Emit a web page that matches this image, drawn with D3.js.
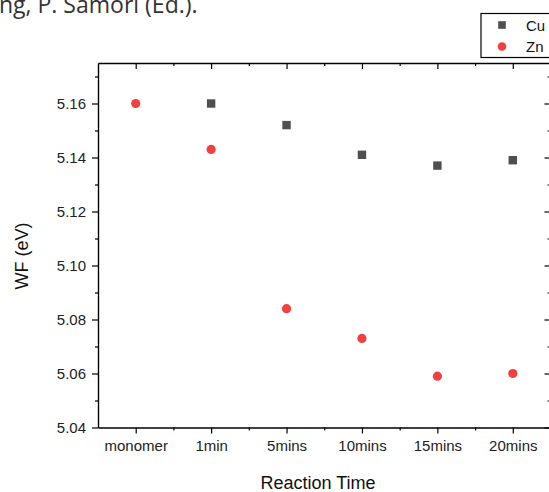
<!DOCTYPE html>
<html>
<head>
<meta charset="utf-8">
<script src="https://cdn.jsdelivr.net/npm/d3@7"></script>
<style>
  html, body { margin: 0; padding: 0; background: #fff; }
  svg { display: block; }
  text { font-family: "Liberation Sans", Arial, sans-serif; }
</style>
</head>
<body>
<div id="chart"></div>
<script>
const categories = ["monomer", "1min", "5mins", "10mins", "15mins", "20mins"];
const cuValues = [null, 5.160, 5.152, 5.141, 5.137, 5.139];
const znValues = [5.160, 5.143, 5.084, 5.073, 5.059, 5.060];
const yTickValues = [5.04, 5.06, 5.08, 5.10, 5.12, 5.14, 5.16];
const yMinorTicks = [5.05, 5.07, 5.09, 5.11, 5.13, 5.15, 5.17];
const seriesNames = ["Cu", "Zn"];
const xTitle = "Reaction Time";
const yTitle = "WF (eV)";
const caption = "ng, P. Samorì (Ed.).";

const W = 549, H = 492;
const pLeft = 98, pRight = 550.5, pTop = 63, pBottom = 427.5;

const svg = d3.select("#chart").append("svg")
  .attr("width", W).attr("height", H);

const x = d3.scalePoint().domain(categories).range([pLeft, pRight]).padding(0.5);
const step = x.step();
const xMinor = categories.slice(0, -1).map(c => x(c) + step / 2);
const xId = d3.scaleLinear().domain([pLeft, pRight]).range([pLeft, pRight]);
const y = d3.scaleLinear().domain([5.04, 5.175]).range([pBottom, pTop]);

// caption fragment (cropped at the top, as in the source image)
svg.append("text").attr("x", -1).attr("y", 13)
  .style("font-family", "'Open Sans', 'Noto Sans', sans-serif")
  .attr("font-size", 23).attr("fill", "#333").text(caption);

function styleAxis(g) {
  g.selectAll(".domain").attr("stroke", "#000").attr("stroke-width", 1.4);
  g.selectAll(".tick line").attr("stroke", "#000").attr("stroke-width", 1.2);
  g.selectAll(".tick text").attr("fill", "#222").attr("font-size", 15)
    .attr("font-family", "'Liberation Sans', Arial, sans-serif");
}

// bottom axis
svg.append("g").attr("transform", `translate(0,${pBottom})`)
  .call(d3.axisBottom(x).tickSize(6).tickSizeOuter(0).tickPadding(7)).call(styleAxis);
svg.append("g").attr("transform", `translate(0,${pBottom})`)
  .call(d3.axisBottom(xId).tickValues(xMinor).tickSize(3).tickFormat("").tickSizeOuter(0))
  .call(g => g.select(".domain").remove()).call(styleAxis);

// top axis (ticks inward)
svg.append("g").attr("transform", `translate(0,${pTop})`)
  .call(d3.axisBottom(x).tickSize(6).tickSizeOuter(0).tickFormat("")).call(styleAxis);
svg.append("g").attr("transform", `translate(0,${pTop})`)
  .call(d3.axisBottom(xId).tickValues(xMinor).tickSize(3).tickFormat("").tickSizeOuter(0))
  .call(g => g.select(".domain").remove()).call(styleAxis);

// left axis
svg.append("g").attr("transform", `translate(${pLeft},0)`)
  .call(d3.axisLeft(y).tickValues(yTickValues).tickFormat(d3.format(".2f"))
    .tickSize(6).tickSizeOuter(0).tickPadding(6)).call(styleAxis);
svg.append("g").attr("transform", `translate(${pLeft},0)`)
  .call(d3.axisLeft(y).tickValues(yMinorTicks).tickFormat("").tickSize(3).tickSizeOuter(0))
  .call(g => g.select(".domain").remove()).call(styleAxis);

// right axis (ticks inward)
svg.append("g").attr("transform", `translate(${pRight},0)`)
  .call(d3.axisLeft(y).tickValues(yTickValues).tickFormat("").tickSize(6).tickSizeOuter(0)).call(styleAxis);
svg.append("g").attr("transform", `translate(${pRight},0)`)
  .call(d3.axisLeft(y).tickValues(yMinorTicks).tickFormat("").tickSize(3).tickSizeOuter(0))
  .call(g => g.select(".domain").remove()).call(styleAxis);

// axis titles
svg.append("text").attr("x", 318).attr("y", 489).attr("text-anchor", "middle")
  .attr("font-size", 18).attr("fill", "#111").text(xTitle);
svg.append("text").attr("transform", "translate(28,256) rotate(-90)")
  .attr("text-anchor", "middle").attr("font-size", 18).attr("fill", "#111").text(yTitle);

// data
const cuColor = "#4f4f4f", znColor = "#f0403f";
const sq = 8.4;
const cuData = categories.map((c, i) => ({ c, v: cuValues[i] })).filter(d => d.v != null);
const znData = categories.map((c, i) => ({ c, v: znValues[i] })).filter(d => d.v != null);
svg.append("g").selectAll("rect").data(cuData).join("rect")
  .attr("x", d => x(d.c) - sq / 2)
  .attr("y", d => y(d.v) - sq / 2)
  .attr("width", sq).attr("height", sq).attr("fill", cuColor);
svg.append("g").selectAll("circle").data(znData).join("circle")
  .attr("cx", d => x(d.c))
  .attr("cy", d => y(d.v))
  .attr("r", 4.6).attr("fill", znColor);

// legend
const lg = svg.append("g");
lg.append("rect").attr("x", 481).attr("y", 13.5).attr("width", 80).attr("height", 44)
  .attr("fill", "#fff").attr("stroke", "#000").attr("stroke-width", 1.2);
lg.append("rect").attr("x", 502 - 3.8).attr("y", 25 - 3.8).attr("width", 7.6).attr("height", 7.6)
  .attr("fill", cuColor);
lg.append("circle").attr("cx", 502).attr("cy", 46.5).attr("r", 4.3).attr("fill", znColor);
lg.append("text").attr("x", 526).attr("y", 30.5).attr("font-size", 15).attr("fill", "#111").text(seriesNames[0]);
lg.append("text").attr("x", 526).attr("y", 52).attr("font-size", 15).attr("fill", "#111").text(seriesNames[1]);
</script>
</body>
</html>
